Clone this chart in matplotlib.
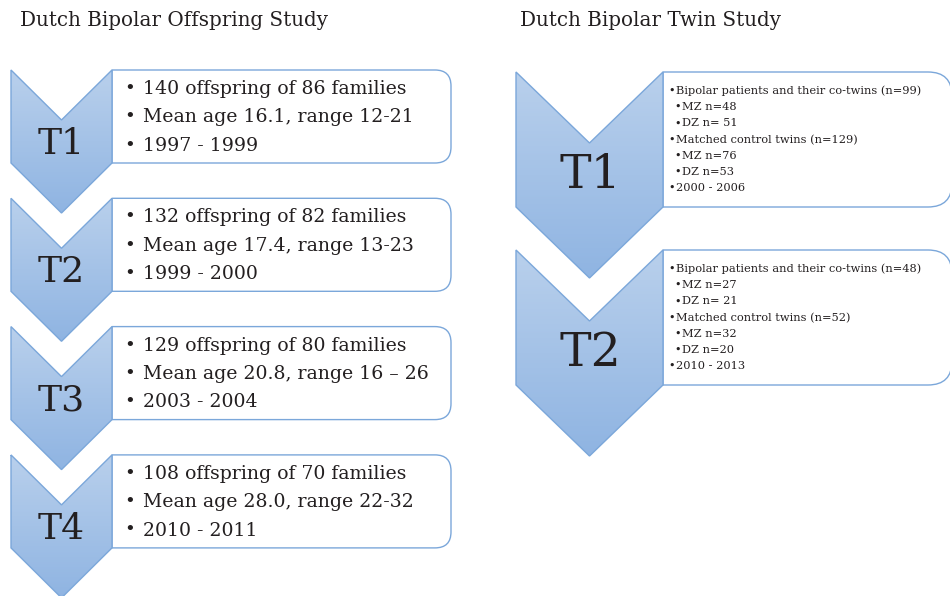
import numpy as np
import matplotlib
matplotlib.use("Agg")
import matplotlib.pyplot as plt
from matplotlib.path import Path
from matplotlib.patches import PathPatch, Polygon

plt.rcParams['font.family'] = ['DejaVu Serif']

# content
titles = ["Dutch Bipolar Offspring Study", "Dutch Bipolar Twin Study"]

left_labels = ["T1", "T2", "T3", "T4"]
left_lines = [
    ["140 offspring of 86 families", "Mean age 16.1, range 12-21", "1997 - 1999"],
    ["132 offspring of 82 families", "Mean age 17.4, range 13-23", "1999 - 2000"],
    ["129 offspring of 80 families", "Mean age 20.8, range 16 \u2013 26", "2003 - 2004"],
    ["108 offspring of 70 families", "Mean age 28.0, range 22-32", "2010 - 2011"],
]

right_labels = ["T1", "T2"]
# (indent level, text)
right_lines = [
    [(0, "Bipolar patients and their co-twins (n=99)"), (1, "MZ n=48"), (1, "DZ n= 51"),
     (0, "Matched control twins (n=129)"), (1, "MZ n=76"), (1, "DZ n=53"), (0, "2000 - 2006")],
    [(0, "Bipolar patients and their co-twins (n=48)"), (1, "MZ n=27"), (1, "DZ n= 21"),
     (0, "Matched control twins (n=52)"), (1, "MZ n=32"), (1, "DZ n=20"), (0, "2010 - 2013")],
]

TXT = "#231f20"
EDGE = "#7ba7da"


def chevron(ax, x0, y0, w, notch, side):
    xm = x0 + w / 2
    pts = [(x0, y0), (xm, y0 + notch), (x0 + w, y0), (x0 + w, y0 + side),
           (xm, y0 + side + notch), (x0, y0 + side)]
    poly = Polygon(pts, closed=True, facecolor="none", edgecolor=EDGE, lw=1.0, zorder=3)
    ax.add_patch(poly)
    grad = np.linspace(0, 1, 256).reshape(-1, 1)
    cmap = matplotlib.colors.LinearSegmentedColormap.from_list("g", ["#b9d0ec", "#8fb4e2"])
    im = ax.imshow(grad, cmap=cmap, aspect="auto", origin="upper",
                   extent=(x0, x0 + w, y0 + side + notch, y0), zorder=2)
    im.set_clip_path(poly)


def box(ax, x0, y0, x1, y1, r):
    verts = [(x0, y0), (x1 - r, y0), (x1, y0), (x1, y0 + r), (x1, y1 - r),
             (x1, y1), (x1 - r, y1), (x0, y1), (x0, y0)]
    codes = [Path.MOVETO, Path.LINETO, Path.CURVE3, Path.CURVE3, Path.LINETO,
             Path.CURVE3, Path.CURVE3, Path.LINETO, Path.CLOSEPOLY]
    ax.add_patch(PathPatch(Path(verts, codes), facecolor="white", edgecolor=EDGE,
                           lw=1.0, zorder=1))


fig = plt.figure(figsize=(9.5, 5.96), dpi=100)
ax = fig.add_axes([0, 0, 1, 1])
ax.set_xlim(0, 950)
ax.set_ylim(596, 0)
ax.axis("off")

ax.text(20, 21, titles[0], fontsize=14.3, color=TXT, va="center", ha="left")
ax.text(520, 21, titles[1], fontsize=14.3, color=TXT, va="center", ha="left")

# left column
for i, (lab, lines) in enumerate(zip(left_labels, left_lines)):
    top = 70 + i * 128.3
    box(ax, 112, top, 451, top + 93, 16)
    chevron(ax, 11, top, 101, 50, 93)
    ax.text(61, top + 74, lab, fontsize=26, color=TXT, ha="center", va="center", zorder=4)
    for j, s in enumerate(lines):
        y = top + 19 + j * 28.3
        ax.text(130, y, "\u2022", fontsize=13, color=TXT, ha="center", va="center", zorder=4)
        ax.text(143, y, s, fontsize=13.6, color=TXT, ha="left", va="center", zorder=4)

# right column
for i, (lab, lines) in enumerate(zip(right_labels, right_lines)):
    top = 72 + i * 178
    box(ax, 663, top, 952, top + 135, 24)
    chevron(ax, 516, top, 147, 71, 135)
    ax.text(590, top + 103, lab, fontsize=34, color=TXT, ha="center", va="center", zorder=4)
    for j, (lvl, s) in enumerate(lines):
        y = top + 19 + j * 16.2
        xb = 672 + lvl * 6
        ax.text(xb, y, "\u2022", fontsize=8, color=TXT, ha="center", va="center", zorder=4)
        ax.text(xb + 4, y, s, fontsize=8.2, color=TXT, ha="left", va="center", zorder=4)

fig.savefig("out.png", dpi=100)
